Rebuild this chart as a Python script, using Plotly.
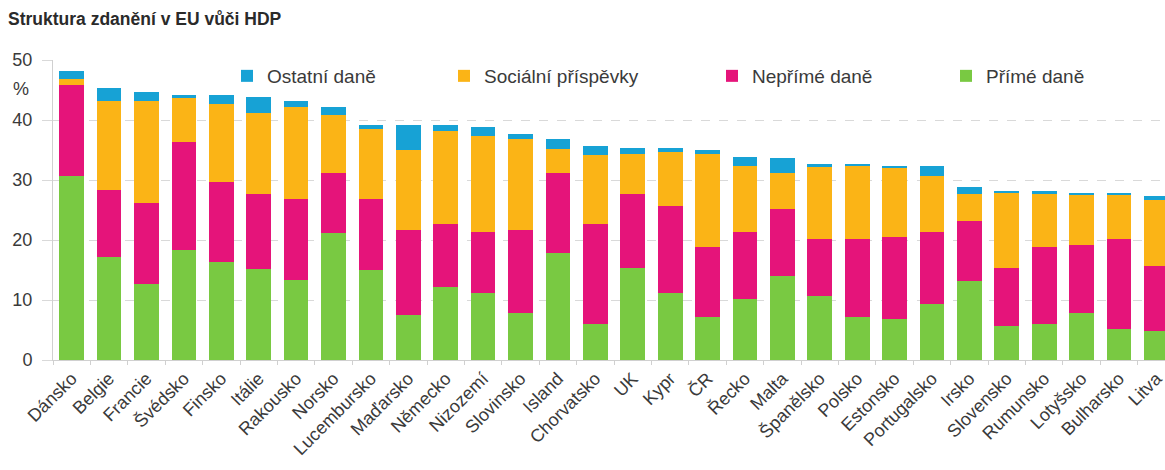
import plotly.graph_objects as go

countries = ["Dánsko", "Belgie", "Francie", "Švédsko", "Finsko", "Itálie", "Rakousko", "Norsko",
             "Lucembursko", "Maďarsko", "Německo", "Nizozemí", "Slovinsko", "Island", "Chorvatsko",
             "UK", "Kypr", "ČR", "Řecko", "Malta", "Španělsko", "Polsko", "Estonsko", "Portugalsko",
             "Irsko", "Slovensko", "Rumunsko", "Lotyšsko", "Bulharsko", "Litva"]

prime_dane = [30.6, 17.2, 12.6, 18.4, 16.3, 15.2, 13.4, 21.1, 15.0, 7.5, 12.2, 11.1, 7.8, 17.8, 6.0,
              15.3, 11.1, 7.2, 10.2, 14.0, 10.7, 7.2, 6.9, 9.3, 13.2, 5.7, 6.0, 7.8, 5.2, 4.8]
neprime_dane = [15.3, 11.2, 13.5, 18.0, 13.4, 12.4, 13.5, 10.1, 11.9, 14.2, 10.4, 10.2, 13.9, 13.4, 16.6,
                12.3, 14.5, 11.6, 11.1, 11.2, 9.5, 13.0, 13.6, 12.1, 9.9, 9.7, 12.8, 11.3, 15.0, 10.9]
socialni_prispevky = [0.9, 14.8, 17.1, 7.2, 13.0, 13.6, 15.3, 9.7, 11.6, 13.3, 15.6, 16.0, 15.1, 3.9, 11.5,
                      6.8, 9.1, 15.6, 11.1, 5.9, 11.9, 12.1, 11.6, 9.2, 4.6, 12.5, 8.9, 8.4, 7.3, 11.0]
ostatni_dane = [1.3, 2.2, 1.5, 0.6, 1.5, 2.7, 0.9, 1.2, 0.7, 4.2, 1.0, 1.6, 0.9, 1.7, 1.6,
                0.9, 0.6, 0.6, 1.4, 2.5, 0.6, 0.4, 0.3, 1.8, 1.2, 0.3, 0.5, 0.4, 0.4, 0.6]

y_ticks = [0, 10, 20, 30, 40, 50]

W, H = 1165, 470
FONT = "Liberation Sans, Arial, sans-serif"
TXT = "#3a3a3a"

series = [
    ("Přímé daně", prime_dane, "#79c942", "legend4", 986),
    ("Nepřímé daně", neprime_dane, "#e5147a", "legend3", 752),
    ("Sociální příspěvky", socialni_prispevky, "#fbb416", "legend2", 484),
    ("Ostatní daně", ostatni_dane, "#17a2d5", "legend", 267),
]

fig = go.Figure()
for name, vals, col, leg, _ in series:
    fig.add_trace(go.Bar(x=countries, y=vals, name=name, marker=dict(color=col, line=dict(width=0)),
                         legend=leg))

layout_legends = {}
for name, vals, col, leg, tx in series:
    layout_legends[leg] = dict(
        xref="container", yref="container", x=(tx - 40) / W, y=1 - 76 / H,
        xanchor="left", yanchor="middle", orientation="h",
        font=dict(family=FONT, size=19, color=TXT), bgcolor="rgba(0,0,0,0)",
        itemclick=False, itemdoubleclick=False,
    )

fig.update_layout(
    width=W, height=H,
    margin=dict(l=53, r=0, t=60, b=110, autoexpand=False),
    barmode="stack", bargap=0.34,
    plot_bgcolor="white", paper_bgcolor="white",
    font=dict(family=FONT, color=TXT),
    title=dict(text="<b>Struktura zdanění v EU vůči HDP</b>", x=8 / W, xanchor="left",
               y=1 - 19 / H, yanchor="middle", font=dict(family=FONT, size=17.5, color="#2a2a2a")),
    showlegend=True,
    **layout_legends,
    xaxis=dict(range=[-0.5, 29.23], tickangle=-45, tickfont=dict(size=18, color=TXT),
               showline=True, linecolor="#d0d0d0", linewidth=1, ticks="outside",
               tickson="boundaries", ticklen=4, tickcolor="#d0d0d0", showgrid=False),
    yaxis=dict(range=[0, 50], tickvals=y_ticks, tickfont=dict(size=18, color=TXT),
               showgrid=True, gridcolor="#d9d9d9", griddash="dash", gridwidth=1,
               showline=True, linecolor="#d0d0d0", ticks="outside", ticklen=10, tickcolor="#d9d9d9",
               ticklabelstandoff=6, zeroline=False),
    annotations=[dict(text="%", xref="paper", yref="y", x=0, y=45.2, xanchor="right", xshift=-22,
                      showarrow=False, font=dict(family=FONT, size=18, color=TXT))],
)

fig.write_html("out.html")
